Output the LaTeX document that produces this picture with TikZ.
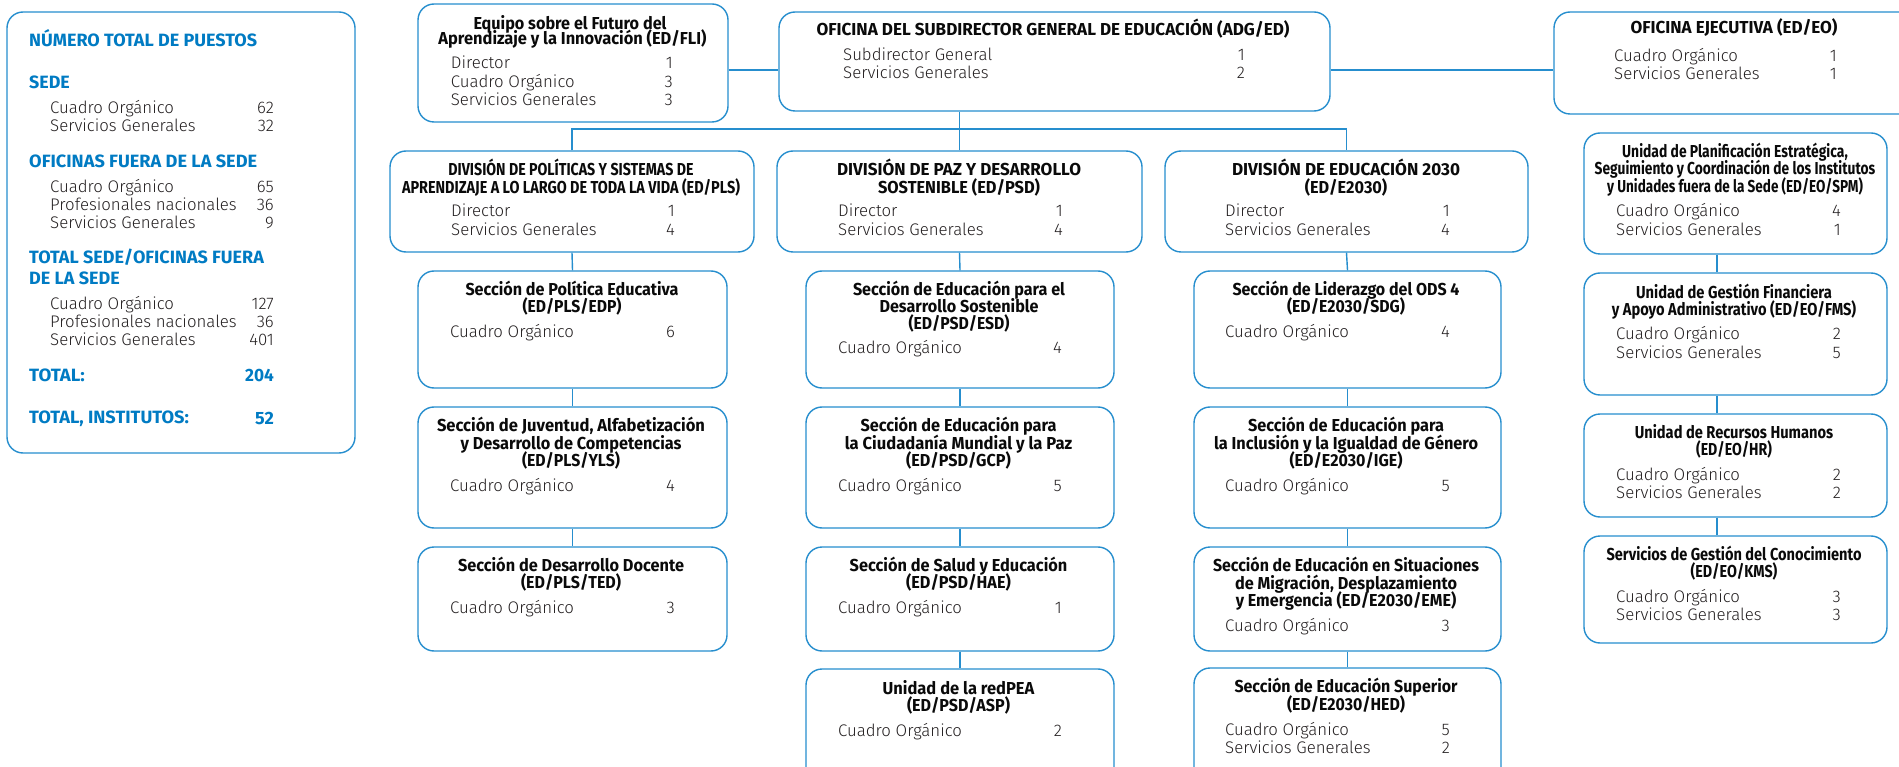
\documentclass[tikz,border=0pt]{standalone}
\usepackage{graphicx}
\usepackage{fontspec}
\setmainfont{Fira Sans}
\newfontfamily\bodyff{Fira Sans Light}
\newfontfamily\ttlff{Fira Sans Bold}
\newfontfamily\hdff{Fira Sans Bold}
\definecolor{linec}{RGB}{38,142,206}
\definecolor{headc}{RGB}{0,123,195}
\definecolor{bodyc}{RGB}{35,31,32}
\definecolor{ttlc}{RGB}{10,10,10}
\tikzset{
  box/.style={draw=linec, line width=1.4pt, rounded corners=16pt, inner sep=0pt},
  conn/.style={draw=linec, line width=1.4pt},
  ttl/.style={font=\ttlff\fontsize{17.3}{17}\selectfont, text=ttlc, inner sep=0pt, anchor=base},
  lbl/.style={font=\bodyff\fontsize{16.8}{18}\selectfont, text=bodyc, inner sep=0pt, anchor=base west},
  num/.style={font=\bodyff\fontsize{16.8}{18}\selectfont, text=bodyc, inner sep=0pt, anchor=base east},
  hd/.style={font=\hdff\fontsize{17.8}{18}\selectfont, text=headc, inner sep=0pt, anchor=base west},
  hdr/.style={font=\hdff\fontsize{17.8}{18}\selectfont, text=headc, inner sep=0pt, anchor=base east},
}
% box: name, left, top, right, bottom
\newcommand\mkbox[5]{\node[box, minimum width={(#4-#2)*1pt}, minimum height={(#5-#3)*1pt}] (#1) at ({(#2+#4)/2},{(#3+#5)/2}) {};}
% title line: name, cx, baseline, width, text
\newcommand\tw[5]{\node[ttl] (#1) at (#2,#3) {\resizebox{#4pt}{\height}{#5}};}
% row: name, xl, xr, baseline, label, number
\newcommand\rw[6]{\node[lbl] (#1a) at (#2,#4) {#5};\node[num] (#1b) at (#3,#4) {#6};}
% heading: name, x, baseline, width, text
\newcommand\hh[5]{\node[hd] (#1) at (#2,#3) {\resizebox{#4pt}{\height}{#5}};}
\newcommand\hr[5]{\node[hdr] (#1) at (#2,#3) {\resizebox{#4pt}{\height}{#5}};}
\begin{document}
\begin{tikzpicture}[x=1pt,y=-1pt]
\useasboundingbox (0,0) rectangle (1899,767);
\fill[white] (0,0) rectangle (1899,767);
\clip (0,0) rectangle (1899,767);

% ---------- left summary panel ----------
\mkbox{tot}{7}{12}{355}{453}
\hh{h1}{29}{47}{228}{NÚMERO TOTAL DE PUESTOS}
\hh{h2}{29}{89}{40.7}{SEDE}
\rw{s1}{50}{274}{114}{Cuadro Orgánico}{62}
\rw{s2}{50}{274}{132}{Servicios Generales}{32}
\hh{h3}{29}{168}{228}{OFICINAS FUERA DE LA SEDE}
\rw{o1}{50}{274}{192.5}{Cuadro Orgánico}{65}
\rw{o2}{50}{274}{210.5}{Profesionales nacionales}{36}
\rw{o3}{50}{274}{228.5}{Servicios Generales}{9}
\hh{h4}{29}{264}{234.7}{TOTAL SEDE/OFICINAS FUERA}
\hh{h5}{29}{285}{90.7}{DE LA SEDE}
\rw{t1}{50}{274}{310}{Cuadro Orgánico}{127}
\rw{t2}{50}{274}{328}{Profesionales nacionales}{36}
\rw{t3}{50}{274}{346}{Servicios Generales}{401}
\hh{h6}{29}{381.5}{55.7}{TOTAL:}
\hr{h6n}{274}{381.5}{28.7}{204}
\hh{h7}{29}{424}{159.7}{TOTAL, INSTITUTOS:}
\hr{h7n}{274}{424}{18.7}{52}

% ---------- top row ----------
\mkbox{fli}{418}{4}{728}{122}
\tw{fli1}{570}{29.3}{193}{Equipo sobre el Futuro del}
\tw{fli2}{572.5}{45}{268}{Aprendizaje y la Innovación (ED/FLI)}
\rw{fli3}{450.7}{673}{69}{Director}{1}
\rw{fli4}{450.7}{673}{87.3}{Cuadro Orgánico}{3}
\rw{fli5}{450.7}{673}{106}{Servicios Generales}{3}

\mkbox{adg}{779}{12}{1330}{111}
\tw{adg1}{1053}{36}{473}{OFICINA DEL SUBDIRECTOR GENERAL DE EDUCACIÓN (ADG/ED)}
\rw{adg2}{843}{1245}{61}{Subdirector General}{1}
\rw{adg3}{843}{1245}{79}{Servicios Generales}{2}

\mkbox{eo}{1554}{12}{1960}{114}
\tw{eo1}{1734}{34}{207}{OFICINA EJECUTIVA (ED/EO)}
\rw{eo2}{1614}{1837}{62}{Cuadro Orgánico}{1}
\rw{eo3}{1614}{1837}{80}{Servicios Generales}{1}

% ---------- divisions ----------
\mkbox{pls}{390}{151}{754}{252}
\tw{pls1}{571}{175.5}{245}{DIVISIÓN DE POLÍTICAS Y SISTEMAS DE}
\tw{pls2}{571}{193.3}{338}{APRENDIZAJE A LO LARGO DE TODA LA VIDA (ED/PLS)}
\rw{pls3}{451}{675}{217}{Director}{1}
\rw{pls4}{451}{675}{235.5}{Servicios Generales}{4}

\mkbox{psd}{777}{151}{1142}{252}
\tw{psd1}{959}{175.5}{244}{DIVISIÓN DE PAZ Y DESARROLLO}
\tw{psd2}{959}{193.3}{162}{SOSTENIBLE (ED/PSD)}
\rw{psd3}{838}{1063}{217}{Director}{1}
\rw{psd4}{838}{1063}{235.5}{Servicios Generales}{4}

\mkbox{eda}{1165}{151}{1528}{252}
\tw{eda1}{1346}{175.5}{228}{DIVISIÓN DE EDUCACIÓN 2030}
\tw{eda2}{1346}{193.3}{82.5}{(ED/E2030)}
\rw{eda3}{1225}{1450}{217}{Director}{1}
\rw{eda4}{1225}{1450}{235.5}{Servicios Generales}{4}

% ---------- column 1 ----------
\mkbox{edp}{418}{271}{727}{388}
\tw{edp1}{572}{295.7}{213}{Sección de Política Educativa}
\tw{edp2}{572}{312.7}{99}{(ED/PLS/EDP)}
\rw{edp3}{450}{675}{337.3}{Cuadro Orgánico}{6}

\mkbox{yls}{418}{407}{727}{528}
\tw{yls1}{571}{431.7}{268}{Sección de Juventud, Alfabetización}
\tw{yls2}{571}{449.3}{221}{y Desarrollo de Competencias}
\tw{yls3}{571}{466.7}{98}{(ED/PLS/YLS)}
\rw{yls4}{450}{675}{491.7}{Cuadro Orgánico}{4}

\mkbox{ted}{418}{547}{727}{651}
\tw{ted1}{571}{571.7}{226}{Sección de Desarrollo Docente}
\tw{ted2}{571}{588.3}{100}{(ED/PLS/TED)}
\rw{ted3}{450}{675}{613.3}{Cuadro Orgánico}{3}

% ---------- column 2 ----------
\mkbox{esd}{806}{271}{1114}{388}
\tw{esd1}{959}{295.7}{212}{Sección de Educación para el}
\tw{esd2}{959}{312.7}{159}{Desarrollo Sostenible}
\tw{esd3}{959}{329.3}{101}{(ED/PSD/ESD)}
\rw{esd4}{838}{1062}{354}{Cuadro Orgánico}{4}

\mkbox{gcp}{806}{407}{1114}{528}
\tw{gcp1}{958.5}{431.7}{196}{Sección de Educación para}
\tw{gcp2}{958.5}{449.3}{227.5}{la Ciudadanía Mundial y la Paz}
\tw{gcp3}{958.5}{466.7}{104.6}{(ED/PSD/GCP)}
\rw{gcp4}{838}{1062}{491.7}{Cuadro Orgánico}{5}

\mkbox{hae}{806}{547}{1114}{651}
\tw{hae1}{958.5}{571.7}{217.6}{Sección de Salud y Educación}
\tw{hae2}{958.5}{588.3}{104.6}{(ED/PSD/HAE)}
\rw{hae3}{838}{1062}{613.3}{Cuadro Orgánico}{1}

\mkbox{asp}{806}{669}{1114}{830}
\tw{asp1}{958.5}{694.3}{151.7}{Unidad de la redPEA}
\tw{asp2}{958.5}{711}{103}{(ED/PSD/ASP)}
\rw{asp3}{838}{1062}{736}{Cuadro Orgánico}{2}

% ---------- column 3 ----------
\mkbox{sdg}{1194}{271}{1501}{388}
\tw{sdg1}{1346}{295.3}{227}{Sección de Liderazgo del ODS 4}
\tw{sdg2}{1346}{312.5}{118}{(ED/E2030/SDG)}
\rw{sdg3}{1225}{1450}{337.3}{Cuadro Orgánico}{4}

\mkbox{ige}{1194}{407}{1501}{528}
\tw{ige1}{1346}{431.7}{196}{Sección de Educación para}
\tw{ige2}{1346}{449.3}{264}{la Inclusión y la Igualdad de Género}
\tw{ige3}{1346}{466.7}{113}{(ED/E2030/IGE)}
\rw{ige4}{1225}{1450}{491.7}{Cuadro Orgánico}{5}

\mkbox{eme}{1194}{547}{1501}{651}
\tw{eme1}{1346}{571.7}{266}{Sección de Educación en Situaciones}
\tw{eme2}{1346}{589}{222}{de Migración, Desplazamiento}
\tw{eme3}{1346}{606.7}{220.5}{y Emergencia (ED/E2030/EME)}
\rw{eme4}{1225}{1450}{631.7}{Cuadro Orgánico}{3}

\mkbox{hed}{1194}{668}{1501}{830}
\tw{hed1}{1346}{692.7}{223}{Sección de Educación Superior}
\tw{hed2}{1346}{710}{118}{(ED/E2030/HED)}
\rw{hed3}{1225}{1450}{735}{Cuadro Orgánico}{5}
\rw{hed4}{1225}{1450}{753.3}{Servicios Generales}{2}

% ---------- executive office units ----------
\mkbox{spm}{1584}{133}{1887}{254}
\tw{spm1}{1735}{157.7}{225.6}{Unidad de Planificación Estratégica,}
\tw{spm2}{1735}{175}{280.6}{Seguimiento y Coordinación de los Institutos}
\tw{spm3}{1735}{192.7}{255.8}{y Unidades fuera de la Sede (ED/EO/SPM)}
\rw{spm4}{1616}{1841}{217}{Cuadro Orgánico}{4}
\rw{spm5}{1616}{1841}{235.3}{Servicios Generales}{1}

\mkbox{fms}{1584}{273}{1887}{395}
\tw{fms1}{1734}{298.7}{195.8}{Unidad de Gestión Financiera}
\tw{fms2}{1734}{316}{244.4}{y Apoyo Administrativo (ED/EO/FMS)}
\rw{fms3}{1616}{1841}{340}{Cuadro Orgánico}{2}
\rw{fms4}{1616}{1841}{358.3}{Servicios Generales}{5}

\mkbox{hrb}{1584}{414}{1887}{517}
\tw{hrb1}{1734}{438.3}{198.5}{Unidad de Recursos Humanos}
\tw{hrb2}{1734}{455.3}{75.7}{(ED/EO/HR)}
\rw{hrb3}{1616}{1841}{480.3}{Cuadro Orgánico}{2}
\rw{hrb4}{1616}{1841}{498.3}{Servicios Generales}{2}

\mkbox{kms}{1584}{536}{1887}{643}
\tw{kms1}{1734}{560.3}{255}{Servicios de Gestión del Conocimiento}
\tw{kms2}{1734}{577.7}{86.7}{(ED/EO/KMS)}
\rw{kms3}{1616}{1841}{602.7}{Cuadro Orgánico}{3}
\rw{kms4}{1616}{1841}{620.3}{Servicios Generales}{3}

% ---------- connectors ----------
\coordinate (bus) at (960,129);
\draw[conn] ([yshift=-7pt]fli.east) -- ([yshift=-7pt]fli.east -| adg.west);
\draw[conn] ([yshift=-8.5pt]adg.east) -- ([yshift=-8.5pt]adg.east -| eo.west);
\draw[conn] (psd.north) -- (psd.north |- adg.south);
\draw[conn] (pls.north) -- (pls.north |- bus) -- (eda.north |- bus) -- (eda.north);
\draw[conn] (pls.south) -- (edp.north);
\draw[conn] (edp.south) -- (yls.north);
\draw[conn] (yls.south) -- (ted.north);
\draw[conn] (psd.south) -- (esd.north);
\draw[conn] (esd.south) -- (gcp.north);
\draw[conn] (gcp.south) -- (hae.north);
\draw[conn] (hae.south) -- (asp.north);
\draw[conn] (eda.south) -- (sdg.north);
\draw[conn] (sdg.south) -- (ige.north);
\draw[conn] (ige.south) -- (eme.north);
\draw[conn] (eme.south) -- (hed.north);
\draw[conn] ([xshift=-18.5pt]spm.south) -- ([xshift=-18.5pt]fms.north);
\draw[conn] ([xshift=-18.5pt]fms.south) -- ([xshift=-18.5pt]hrb.north);
\draw[conn] ([xshift=-18.5pt]hrb.south) -- ([xshift=-18.5pt]kms.north);
\end{tikzpicture}
\end{document}
